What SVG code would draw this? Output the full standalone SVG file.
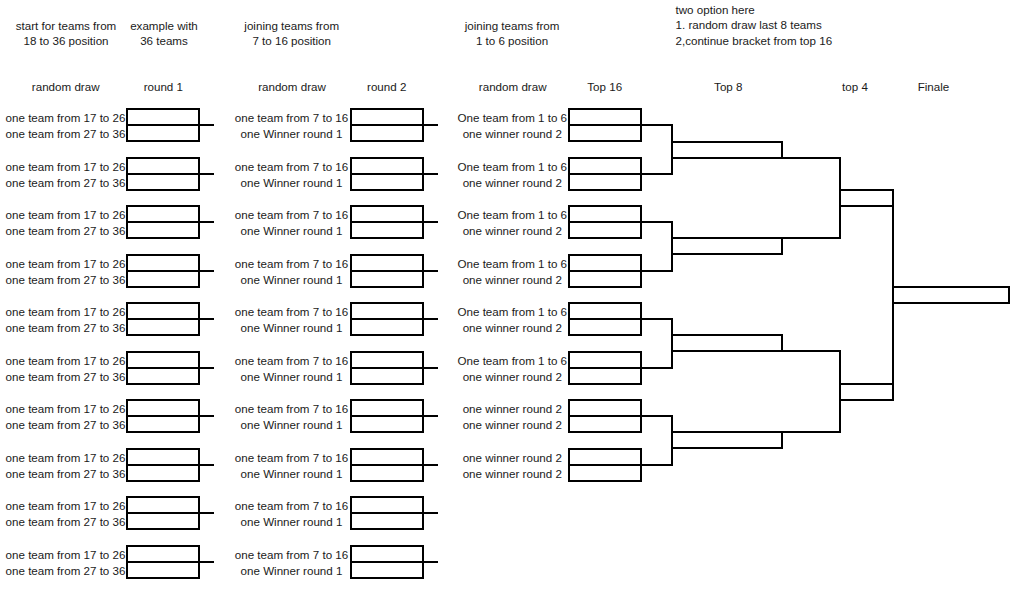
<svg xmlns="http://www.w3.org/2000/svg" width="1024" height="592" viewBox="0 0 1024 592">
<style>
.bg{fill:#fff}
.box{fill:none;stroke:#000;stroke-width:2}
.ln{fill:none;stroke:#000;stroke-width:2}
text{font-family:"Liberation Sans",Arial,sans-serif;font-size:11.6px;fill:#1a1a1a}
.c{text-anchor:middle}
</style>
<defs>
<g id="m72"><rect class="box" x="0" y="0" width="72" height="32"/><line class="ln" x1="0" y1="16" x2="72" y2="16"/></g>
</defs>
<rect class="bg" x="0" y="0" width="1024" height="592"/>
<g id="headers">
<text class="c" x="66" y="29.5">start for teams from</text>
<text class="c" x="66" y="45">18 to 36 position</text>
<text class="c" x="164" y="29.5">example with</text>
<text class="c" x="164" y="45">36 teams</text>
<text class="c" x="291.7" y="29.5">joining teams from</text>
<text class="c" x="291.7" y="45">7 to 16 position</text>
<text class="c" x="512" y="29.5">joining teams from</text>
<text class="c" x="512" y="45">1 to 6 position</text>
<text x="675.5" y="13.5">two option here</text>
<text x="675.5" y="29">1. random draw last 8 teams</text>
<text x="675.5" y="44.5">2,continue bracket from top 16</text>
<text class="c" x="65.7" y="90.5">random draw</text>
<text class="c" x="163.3" y="90.5">round 1</text>
<text class="c" x="292" y="90.5">random draw</text>
<text class="c" x="386.7" y="90.5">round 2</text>
<text class="c" x="512.7" y="90.5">random draw</text>
<text class="c" x="604.7" y="90.5">Top 16</text>
<text class="c" x="728.3" y="90.5">Top 8</text>
<text class="c" x="855" y="90.5">top 4</text>
<text class="c" x="933.5" y="90.5">Finale</text>
</g>
<g id="round1">
<g id="r1m1"><use href="#m72" x="127" y="109"/><text class="c" x="65.5" y="121.5">one team from 17 to 26</text><text class="c" x="65.5" y="137.5">one team from 27 to 36</text></g>
<g id="r1m2"><use href="#m72" x="127" y="158"/><text class="c" x="65.5" y="170.5">one team from 17 to 26</text><text class="c" x="65.5" y="186.5">one team from 27 to 36</text></g>
<g id="r1m3"><use href="#m72" x="127" y="206"/><text class="c" x="65.5" y="218.5">one team from 17 to 26</text><text class="c" x="65.5" y="234.5">one team from 27 to 36</text></g>
<g id="r1m4"><use href="#m72" x="127" y="255"/><text class="c" x="65.5" y="267.5">one team from 17 to 26</text><text class="c" x="65.5" y="283.5">one team from 27 to 36</text></g>
<g id="r1m5"><use href="#m72" x="127" y="303"/><text class="c" x="65.5" y="315.5">one team from 17 to 26</text><text class="c" x="65.5" y="331.5">one team from 27 to 36</text></g>
<g id="r1m6"><use href="#m72" x="127" y="352"/><text class="c" x="65.5" y="364.5">one team from 17 to 26</text><text class="c" x="65.5" y="380.5">one team from 27 to 36</text></g>
<g id="r1m7"><use href="#m72" x="127" y="400"/><text class="c" x="65.5" y="412.5">one team from 17 to 26</text><text class="c" x="65.5" y="428.5">one team from 27 to 36</text></g>
<g id="r1m8"><use href="#m72" x="127" y="449"/><text class="c" x="65.5" y="461.5">one team from 17 to 26</text><text class="c" x="65.5" y="477.5">one team from 27 to 36</text></g>
<g id="r1m9"><use href="#m72" x="127" y="497"/><text class="c" x="65.5" y="509.5">one team from 17 to 26</text><text class="c" x="65.5" y="525.5">one team from 27 to 36</text></g>
<g id="r1m10"><use href="#m72" x="127" y="546"/><text class="c" x="65.5" y="558.5">one team from 17 to 26</text><text class="c" x="65.5" y="574.5">one team from 27 to 36</text></g>
</g>
<g id="round2">
<g id="r2m1"><use href="#m72" x="351" y="109"/><text class="c" x="291.5" y="121.5">one team from 7 to 16</text><text class="c" x="291.5" y="137.5">one Winner round 1</text></g>
<g id="r2m2"><use href="#m72" x="351" y="158"/><text class="c" x="291.5" y="170.5">one team from 7 to 16</text><text class="c" x="291.5" y="186.5">one Winner round 1</text></g>
<g id="r2m3"><use href="#m72" x="351" y="206"/><text class="c" x="291.5" y="218.5">one team from 7 to 16</text><text class="c" x="291.5" y="234.5">one Winner round 1</text></g>
<g id="r2m4"><use href="#m72" x="351" y="255"/><text class="c" x="291.5" y="267.5">one team from 7 to 16</text><text class="c" x="291.5" y="283.5">one Winner round 1</text></g>
<g id="r2m5"><use href="#m72" x="351" y="303"/><text class="c" x="291.5" y="315.5">one team from 7 to 16</text><text class="c" x="291.5" y="331.5">one Winner round 1</text></g>
<g id="r2m6"><use href="#m72" x="351" y="352"/><text class="c" x="291.5" y="364.5">one team from 7 to 16</text><text class="c" x="291.5" y="380.5">one Winner round 1</text></g>
<g id="r2m7"><use href="#m72" x="351" y="400"/><text class="c" x="291.5" y="412.5">one team from 7 to 16</text><text class="c" x="291.5" y="428.5">one Winner round 1</text></g>
<g id="r2m8"><use href="#m72" x="351" y="449"/><text class="c" x="291.5" y="461.5">one team from 7 to 16</text><text class="c" x="291.5" y="477.5">one Winner round 1</text></g>
<g id="r2m9"><use href="#m72" x="351" y="497"/><text class="c" x="291.5" y="509.5">one team from 7 to 16</text><text class="c" x="291.5" y="525.5">one Winner round 1</text></g>
<g id="r2m10"><use href="#m72" x="351" y="546"/><text class="c" x="291.5" y="558.5">one team from 7 to 16</text><text class="c" x="291.5" y="574.5">one Winner round 1</text></g>
</g>
<g id="top16">
<g id="t16m1"><use href="#m72" x="569" y="109"/><text class="c" x="512.3" y="121.5">One team from 1 to 6</text><text class="c" x="512.3" y="137.5">one winner round 2</text></g>
<g id="t16m2"><use href="#m72" x="569" y="158"/><text class="c" x="512.3" y="170.5">One team from 1 to 6</text><text class="c" x="512.3" y="186.5">one winner round 2</text></g>
<g id="t16m3"><use href="#m72" x="569" y="206"/><text class="c" x="512.3" y="218.5">One team from 1 to 6</text><text class="c" x="512.3" y="234.5">one winner round 2</text></g>
<g id="t16m4"><use href="#m72" x="569" y="255"/><text class="c" x="512.3" y="267.5">One team from 1 to 6</text><text class="c" x="512.3" y="283.5">one winner round 2</text></g>
<g id="t16m5"><use href="#m72" x="569" y="303"/><text class="c" x="512.3" y="315.5">One team from 1 to 6</text><text class="c" x="512.3" y="331.5">one winner round 2</text></g>
<g id="t16m6"><use href="#m72" x="569" y="352"/><text class="c" x="512.3" y="364.5">One team from 1 to 6</text><text class="c" x="512.3" y="380.5">one winner round 2</text></g>
<g id="t16m7"><use href="#m72" x="569" y="400"/><text class="c" x="512.3" y="412.5">one winner round 2</text><text class="c" x="512.3" y="428.5">one winner round 2</text></g>
<g id="t16m8"><use href="#m72" x="569" y="449"/><text class="c" x="512.3" y="461.5">one winner round 2</text><text class="c" x="512.3" y="477.5">one winner round 2</text></g>
</g>
<g id="top8">
<rect id="t8m1" class="box" x="672" y="142" width="110" height="16"/>
<rect id="t8m2" class="box" x="672" y="238" width="110" height="16"/>
<rect id="t8m3" class="box" x="672" y="335" width="110" height="16"/>
<rect id="t8m4" class="box" x="672" y="432" width="110" height="16"/>
</g>
<g id="top4">
<rect id="t4m1" class="box" x="840" y="190" width="53" height="16"/>
<rect id="t4m2" class="box" x="840" y="384" width="53" height="16"/>
</g>
<g id="finale">
<rect id="final" class="box" x="893" y="287" width="116" height="16"/>
</g>
<g id="connectors" class="ln">
<path class="ln" d="M199 125H214M199 174H214M199 222H214M199 271H214M199 319H214M199 368H214M199 416H214M199 465H214M199 513H214M199 562H214"/>
<path class="ln" d="M423 125H438M423 174H438M423 222H438M423 271H438M423 319H438M423 368H438M423 416H438M423 465H438M423 513H438M423 562H438"/>
<path class="ln" d="M641 125H672V174H641M641 222H672V271H641M641 319H672V368H641M641 416H672V465H641"/>
<path class="ln" d="M782 158H840V238H782M782 351H840V432H782"/>
<path class="ln" d="M893 206V384"/>
</g>
</svg>
